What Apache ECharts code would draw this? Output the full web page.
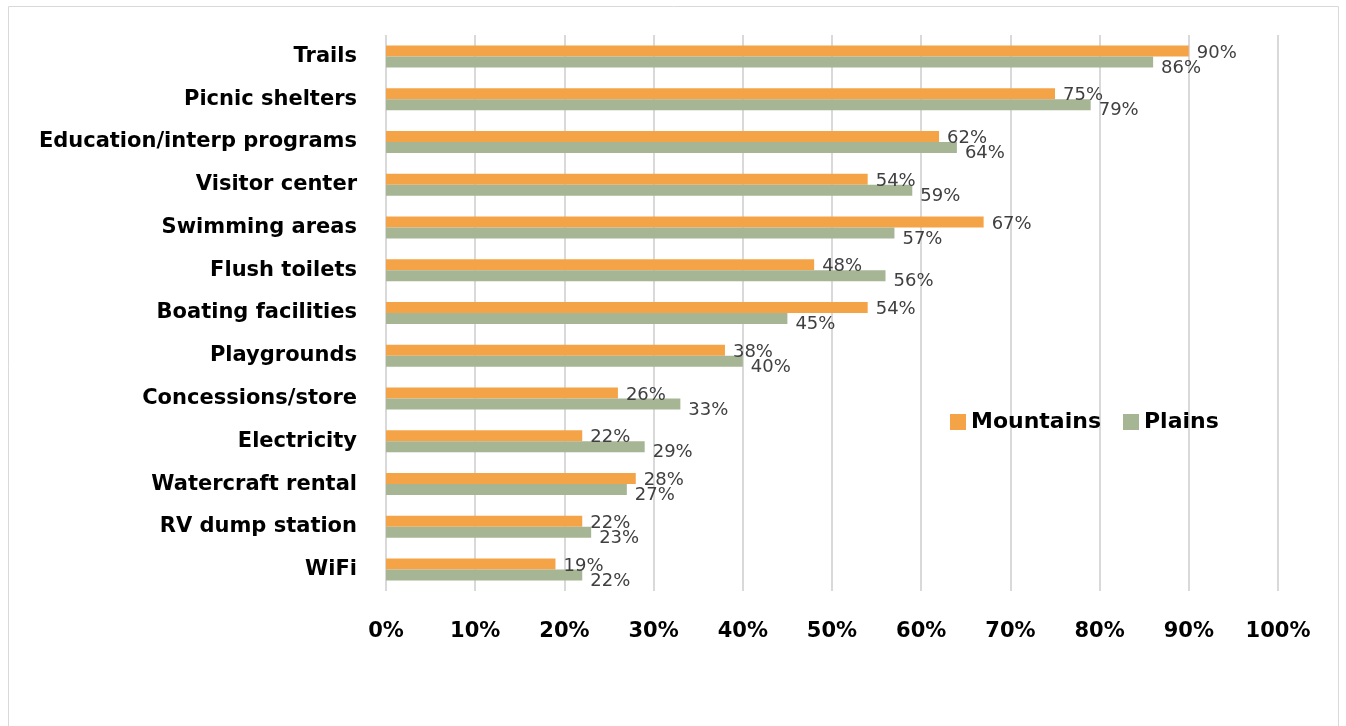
<!DOCTYPE html>
<html><head><meta charset="utf-8">
<script src="https://cdn.jsdelivr.net/npm/echarts@6/dist/echarts.min.js"></script>
<style>html,body{margin:0;padding:0;background:#fff}#c{width:1346px;height:726px}</style>
</head><body><div id="c"></div>
<script>
const categories = ["Trails","Picnic shelters","Education/interp programs","Visitor center","Swimming areas","Flush toilets","Boating facilities","Playgrounds","Concessions/store","Electricity","Watercraft rental","RV dump station","WiFi"];
const mountains = [90,75,62,54,67,48,54,38,26,22,28,22,19];
const plains = [86,79,64,59,57,56,45,40,33,29,27,23,22];
const xTicks = [0,10,20,30,40,50,60,70,80,90,100];

const chart = echarts.init(document.getElementById('c'), null, {renderer:'canvas'});
const font = '"DejaVu Sans", "Liberation Sans", sans-serif';
const lbl = (dy) => ({show:true, position:'right', distance:8, offset:[0,dy], formatter:'{c}%', color:'#404040', fontSize:18, fontFamily:font});
chart.setOption({
  animation:false,
  graphic:[
    {type:'rect', shape:{x:8.5,y:6.5,width:1330,height:740}, style:{fill:'none', stroke:'#d9d9d9', lineWidth:1}, silent:true, z:-1},
    {type:'rect', shape:{x:370,y:8,width:940,height:26}, style:{fill:'#fff'}, silent:true, z:100}
  ],
  legend:{left:945, top:406, itemWidth:16, itemHeight:16, itemGap:22, icon:'rect',
    textStyle:{fontSize:22, fontWeight:'bold', color:'#000', fontFamily:font},
    data:['Mountains','Plains']},
  grid:{left:386, right:68, top:35, bottom:135, containLabel:false},
  xAxis:{type:'value', min:0, max:100, interval:10,
    axisLine:{show:false}, axisTick:{show:false},
    splitLine:{show:true, lineStyle:{color:'#d9d9d9', width:2}},
    axisLabel:{formatter:'{value}%', fontSize:21, fontWeight:'bold', color:'#000', fontFamily:font, margin:30}},
  yAxis:{type:'category', data:categories, inverse:true,
    axisLine:{show:false}, axisTick:{show:false}, splitLine:{show:false},
    axisLabel:{fontSize:21, fontWeight:'bold', color:'#000', fontFamily:font, margin:29}},
  series:[
    {name:'Mountains', type:'bar', data:mountains, barWidth:11, barGap:'0%',
      itemStyle:{color:'#F4A447'}, label:lbl(2)},
    {name:'Plains', type:'bar', data:plains, barWidth:11,
      itemStyle:{color:'#A6B593'}, label:lbl(6)}
  ]
});
</script></body></html>
